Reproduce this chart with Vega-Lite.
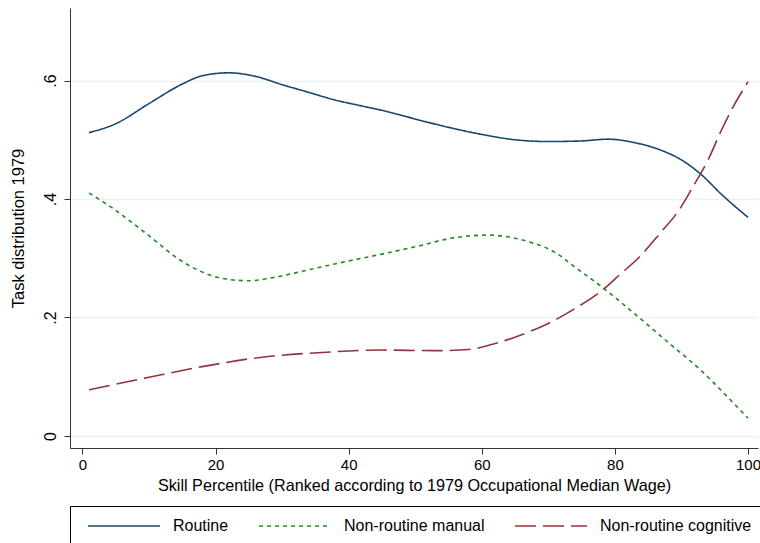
{
  "$schema": "https://vega.github.io/schema/vega-lite/v6.json",
  "width": 688,
  "height": 440,
  "autosize": {"type": "none"},
  "padding": {"left": 70, "top": 8, "right": 2, "bottom": 95},
  "background": "white",
  "config": {
    "view": {"stroke": null},
    "font": "Liberation Sans",
    "axis": {"labelFont": "Liberation Sans", "titleFont": "Liberation Sans", "labelColor": "black", "titleColor": "black", "titleFontWeight": "normal"},
    "legend": {"labelFont": "Liberation Sans"}
  },
  "data": {
    "values": [
      {"series": "Routine", "x": 1, "y": 0.512},
      {"series": "Routine", "x": 5, "y": 0.527},
      {"series": "Routine", "x": 10, "y": 0.561},
      {"series": "Routine", "x": 15, "y": 0.594},
      {"series": "Routine", "x": 18, "y": 0.608},
      {"series": "Routine", "x": 22, "y": 0.613},
      {"series": "Routine", "x": 26, "y": 0.607},
      {"series": "Routine", "x": 30, "y": 0.593},
      {"series": "Routine", "x": 34, "y": 0.580},
      {"series": "Routine", "x": 38, "y": 0.567},
      {"series": "Routine", "x": 42, "y": 0.557},
      {"series": "Routine", "x": 46, "y": 0.547},
      {"series": "Routine", "x": 50, "y": 0.535},
      {"series": "Routine", "x": 55, "y": 0.521},
      {"series": "Routine", "x": 60, "y": 0.509},
      {"series": "Routine", "x": 65, "y": 0.500},
      {"series": "Routine", "x": 70, "y": 0.497},
      {"series": "Routine", "x": 75, "y": 0.498},
      {"series": "Routine", "x": 79, "y": 0.501},
      {"series": "Routine", "x": 83, "y": 0.495},
      {"series": "Routine", "x": 87, "y": 0.482},
      {"series": "Routine", "x": 90, "y": 0.466},
      {"series": "Routine", "x": 93, "y": 0.441},
      {"series": "Routine", "x": 96, "y": 0.408},
      {"series": "Routine", "x": 100, "y": 0.369},
      {"series": "Non-routine manual", "x": 1, "y": 0.410},
      {"series": "Non-routine manual", "x": 4.6, "y": 0.384},
      {"series": "Non-routine manual", "x": 7.6, "y": 0.359},
      {"series": "Non-routine manual", "x": 11, "y": 0.329},
      {"series": "Non-routine manual", "x": 14, "y": 0.302},
      {"series": "Non-routine manual", "x": 17, "y": 0.282},
      {"series": "Non-routine manual", "x": 21, "y": 0.266},
      {"series": "Non-routine manual", "x": 25, "y": 0.262},
      {"series": "Non-routine manual", "x": 29, "y": 0.268},
      {"series": "Non-routine manual", "x": 33, "y": 0.278},
      {"series": "Non-routine manual", "x": 39, "y": 0.293},
      {"series": "Non-routine manual", "x": 45, "y": 0.307},
      {"series": "Non-routine manual", "x": 51, "y": 0.322},
      {"series": "Non-routine manual", "x": 55, "y": 0.333},
      {"series": "Non-routine manual", "x": 61, "y": 0.339},
      {"series": "Non-routine manual", "x": 64, "y": 0.336},
      {"series": "Non-routine manual", "x": 67, "y": 0.328},
      {"series": "Non-routine manual", "x": 71, "y": 0.310},
      {"series": "Non-routine manual", "x": 74, "y": 0.285},
      {"series": "Non-routine manual", "x": 78, "y": 0.252},
      {"series": "Non-routine manual", "x": 83, "y": 0.206},
      {"series": "Non-routine manual", "x": 88, "y": 0.158},
      {"series": "Non-routine manual", "x": 93, "y": 0.110},
      {"series": "Non-routine manual", "x": 97, "y": 0.065},
      {"series": "Non-routine manual", "x": 100, "y": 0.030},
      {"series": "Non-routine cognitive", "x": 1, "y": 0.078},
      {"series": "Non-routine cognitive", "x": 10, "y": 0.099},
      {"series": "Non-routine cognitive", "x": 18, "y": 0.117},
      {"series": "Non-routine cognitive", "x": 27, "y": 0.133},
      {"series": "Non-routine cognitive", "x": 36, "y": 0.141},
      {"series": "Non-routine cognitive", "x": 45, "y": 0.145},
      {"series": "Non-routine cognitive", "x": 53, "y": 0.144},
      {"series": "Non-routine cognitive", "x": 58, "y": 0.146},
      {"series": "Non-routine cognitive", "x": 62, "y": 0.156},
      {"series": "Non-routine cognitive", "x": 66, "y": 0.171},
      {"series": "Non-routine cognitive", "x": 70, "y": 0.190},
      {"series": "Non-routine cognitive", "x": 74, "y": 0.215},
      {"series": "Non-routine cognitive", "x": 78, "y": 0.245},
      {"series": "Non-routine cognitive", "x": 81, "y": 0.275},
      {"series": "Non-routine cognitive", "x": 83.5, "y": 0.300},
      {"series": "Non-routine cognitive", "x": 87, "y": 0.345},
      {"series": "Non-routine cognitive", "x": 89.5, "y": 0.379},
      {"series": "Non-routine cognitive", "x": 92, "y": 0.426},
      {"series": "Non-routine cognitive", "x": 94, "y": 0.466},
      {"series": "Non-routine cognitive", "x": 96, "y": 0.516},
      {"series": "Non-routine cognitive", "x": 97.5, "y": 0.550},
      {"series": "Non-routine cognitive", "x": 100, "y": 0.598}
    ]
  },
  "mark": {"type": "line", "interpolate": "monotone", "strokeWidth": 1.6},
  "encoding": {
    "x": {
      "field": "x", "type": "quantitative",
      "scale": {"domain": [-1.86, 101.5], "nice": false, "zero": false},
      "axis": {
        "values": [0, 20, 40, 60, 80, 100],
        "title": "Skill Percentile (Ranked according to 1979 Occupational Median Wage)",
        "grid": false,
        "domainColor": "#333333", "tickColor": "#333333",
        "tickSize": 6, "labelFontSize": 15, "titleFontSize": 16.2,
        "labelPadding": 3, "titlePadding": 5
      }
    },
    "y": {
      "field": "y", "type": "quantitative",
      "scale": {"domain": [-0.0203, 0.7224], "nice": false, "zero": false},
      "axis": {
        "values": [0, 0.2, 0.4, 0.6],
        "labelExpr": "datum.value === 0 ? '0' : '.' + round(datum.value * 10)",
        "title": "Task distribution 1979",
        "grid": true, "gridColor": "#eaf2f3", "gridWidth": 1.3,
        "domainColor": "#333333", "tickColor": "#333333",
        "tickSize": 6, "labelFontSize": 16, "titleFontSize": 16.5,
        "labelAngle": -90, "labelAlign": "center", "labelBaseline": "bottom",
        "labelPadding": 6, "titlePadding": 16
      }
    },
    "color": {
      "field": "series", "type": "nominal",
      "scale": {"domain": ["Routine", "Non-routine manual", "Non-routine cognitive"], "range": ["#1a476f", "#1e8c1e", "#90353b"]},
      "legend": {
        "orient": "none", "legendX": 0, "legendY": 498,
        "direction": "horizontal", "columns": 3, "title": null,
        "strokeColor": "black", "padding": 10,
        "symbolType": "M-0.222,0H7.778", "symbolSize": 324, "symbolStrokeWidth": 1.6,
        "labelFontSize": 16, "labelColor": "black", "labelOffset": 73, "columnPadding": 22
      }
    },
    "strokeDash": {
      "field": "series", "type": "nominal",
      "scale": {"domain": ["Routine", "Non-routine manual", "Non-routine cognitive"], "range": [[1, 0], [4, 4], [21, 7]]},
      "legend": null
    }
  }
}
